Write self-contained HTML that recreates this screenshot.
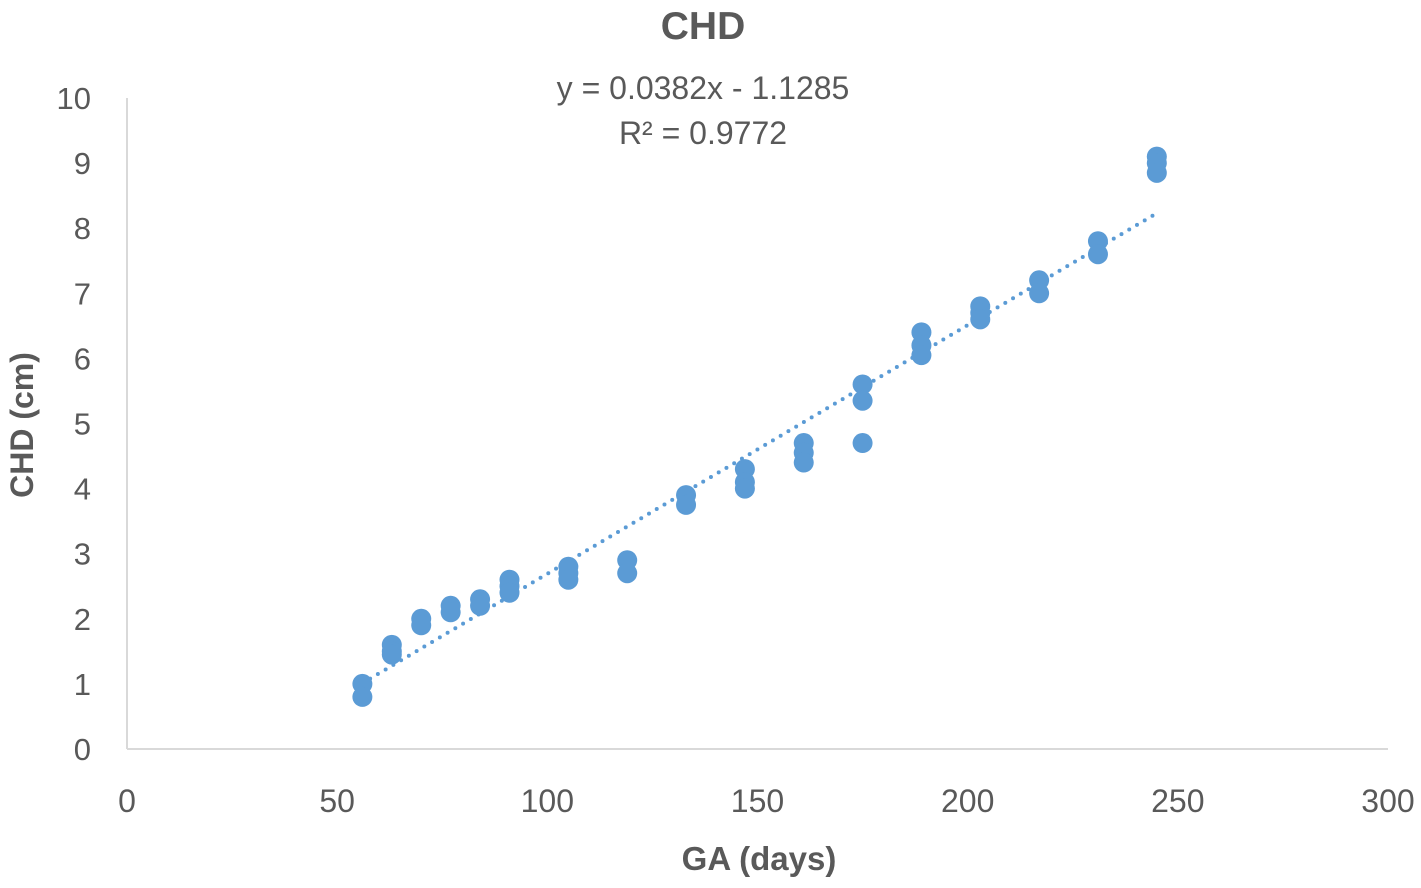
<!DOCTYPE html>
<html><head><meta charset="utf-8"><style>
body{margin:0;background:#fff;font-family:"Liberation Sans",sans-serif}
svg text{font-family:"Liberation Sans",sans-serif;fill:#595959}
</style></head><body>
<svg id="chart" width="1421" height="883">
<text x="703" y="39" font-size="39" font-weight="bold" text-anchor="middle">CHD</text>
<text x="703" y="99" font-size="32" text-anchor="middle">y = 0.0382x - 1.1285</text>
<text x="703" y="144" font-size="32" text-anchor="middle">R² = 0.9772</text>
<text x="759" y="870" font-size="33" font-weight="bold" text-anchor="middle">GA (days)</text>
<text transform="translate(33,425) rotate(-90)" font-size="32" font-weight="bold" text-anchor="middle">CHD (cm)</text>
<g id="axes"></g><g id="trend"></g><g id="pts"></g>
</svg>
<script>
const xTicks=[0,50,100,150,200,250,300];
const yTicks=[0,1,2,3,4,5,6,7,8,9,10];
const gaDays=[56,56,63,63,63,70,70,77,77,84,84,91,91,91,105,105,105,119,119,133,133,147,147,147,161,161,161,175,175,175,189,189,189,203,203,203,217,217,231,231,245,245,245];
const chdValues=[1.0,0.8,1.6,1.5,1.45,2.0,1.9,2.2,2.1,2.3,2.2,2.6,2.5,2.4,2.8,2.7,2.6,2.9,2.7,3.9,3.75,4.3,4.1,4.0,4.7,4.55,4.4,5.6,5.35,4.7,6.4,6.2,6.05,6.8,6.7,6.6,7.2,7.0,7.8,7.6,9.1,9.0,8.85];
const slope=0.0382, intercept=-1.1285;
const NS='http://www.w3.org/2000/svg';
const X=v=>127+v*(1388-127)/300;
const Y=v=>749-v*(749-98)/10;
function mk(tag,attrs,parent,txt){const e=document.createElementNS(NS,tag);for(const k in attrs)e.setAttribute(k,attrs[k]);if(txt!==undefined)e.textContent=txt;parent.appendChild(e);return e;}
const ax=document.getElementById('axes');
let l=mk('line',{x1:X(0),y1:Y(0),x2:X(300),y2:Y(0),stroke:'#d9d9d9','stroke-width':2},ax);


l=mk('line',{x1:X(0),y1:Y(0),x2:X(0),y2:Y(10),stroke:'#d9d9d9','stroke-width':2},ax);


xTicks.forEach(t=>{const e=mk('text',{x:X(t),y:812,'font-size':32,'text-anchor':'middle'},ax,t);

});
yTicks.forEach(t=>{const e=mk('text',{x:91,y:Y(t)+11,'font-size':31,'text-anchor':'end'},ax,t);

});
const x0=Math.min(...gaDays),x1=Math.max(...gaDays);
const tl=mk('line',{x1:X(x0),y1:Y(slope*x0+intercept),x2:X(x1),y2:Y(slope*x1+intercept),stroke:'#5b9bd5','stroke-width':4,'stroke-dasharray':'0 9','stroke-linecap':'round'},document.getElementById('trend'));


const pg=document.getElementById('pts');
gaDays.forEach((g,i)=>{const c=mk('circle',{cx:X(g),cy:Y(chdValues[i]),r:10,fill:'#5b9bd5'},pg);

});
</script>
</body></html>
